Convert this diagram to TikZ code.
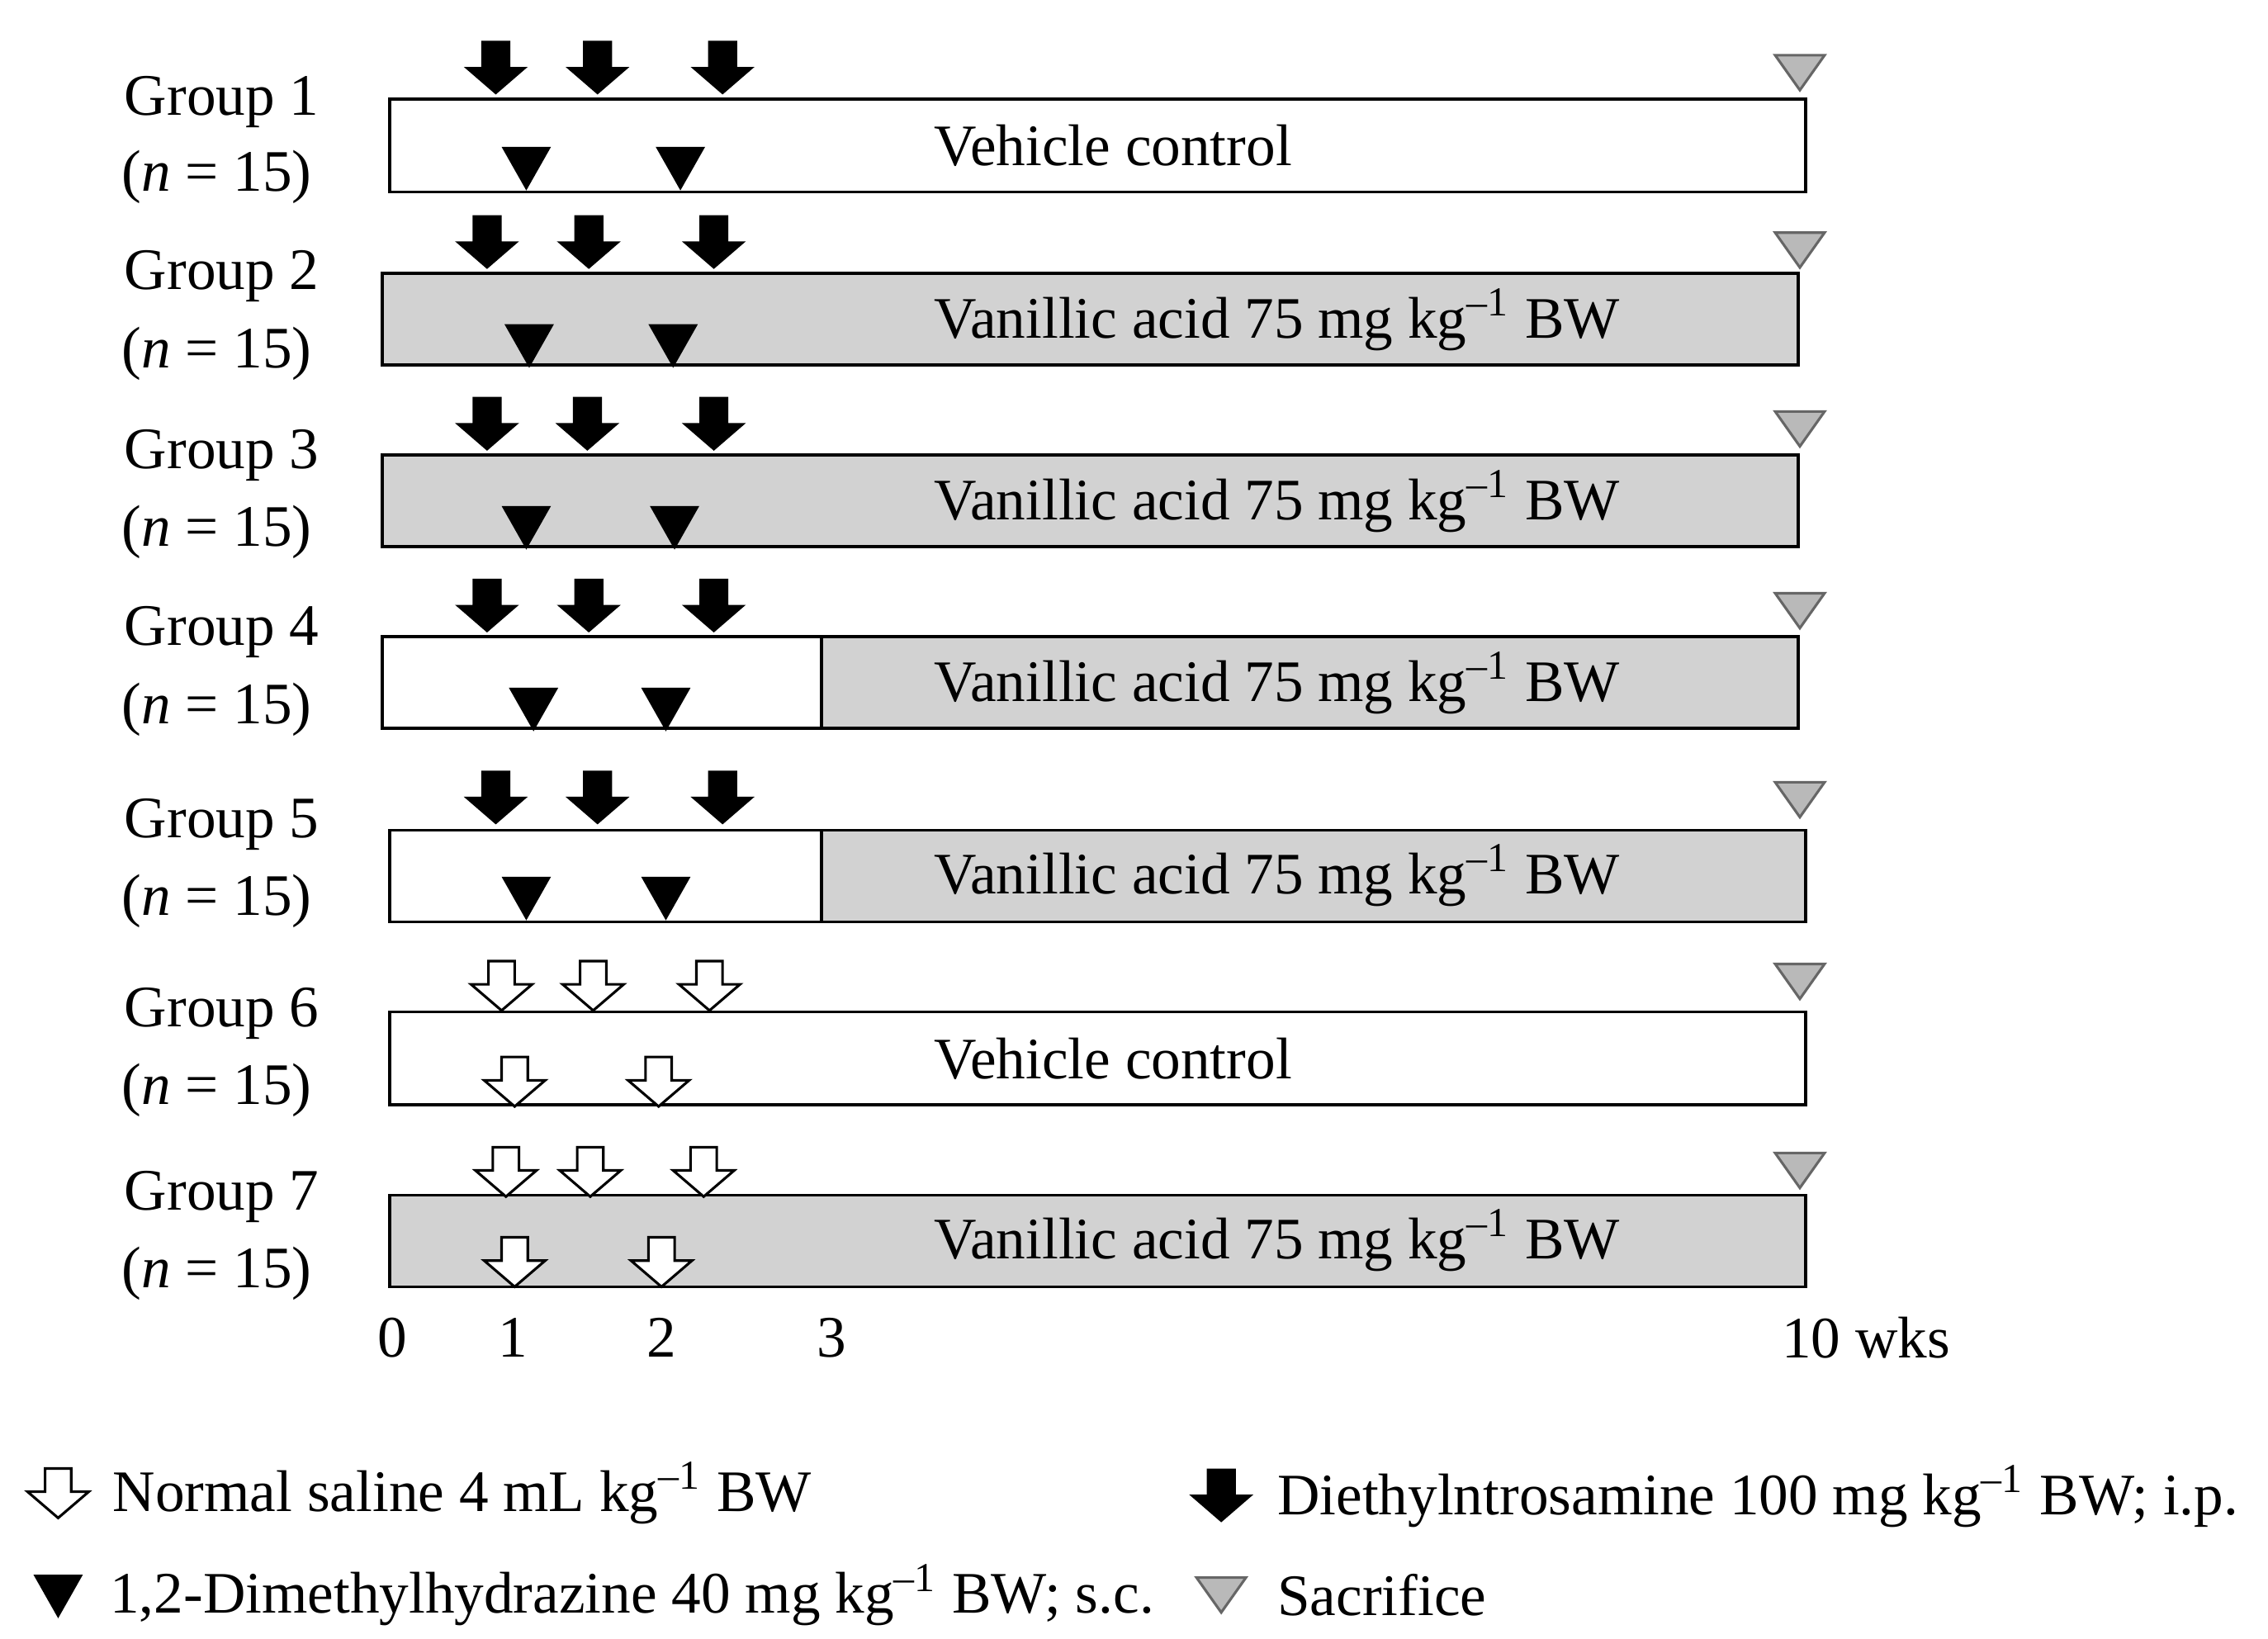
\documentclass[tikz,border=0pt]{standalone}
\usepackage{fontspec}
\setmainfont{Liberation Serif}
\begin{document}
\begin{tikzpicture}[x=0.01cm,y=-0.01cm,font=\fontsize{11.5}{13}\selectfont,
 blk/.pic={\fill[black] (-10,0)--(10,0)--(10,18)--(22,18)--(0,37)--(-22,18)--(-10,18)--cycle;},
 opn/.pic={\draw[black,fill=white,line width=0.5pt] (-9,0)--(9,0)--(9,16)--(21,16)--(0,34)--(-21,16)--(-9,16)--cycle;},
 tri/.pic={\fill[black] (-17,0)--(17,0)--(0,30)--cycle;},
 sac/.pic={\draw[fill=gray!55,draw=gray!80!black,line width=0.5pt] (-17,0)--(17,0)--(0,24)--cycle;},
 bar/.style={draw=black,line width=0.6pt},
 lab/.style={anchor=west,inner sep=0pt}]
\useasboundingbox (0,0) rectangle (1560,1127);
\def\va{Vanillic acid 75 mg kg\textsuperscript{–1} BW}
% bars
\draw[bar,fill=white] (268,68) rectangle (1242,132);
\draw[bar,fill=gray!35] (263,188) rectangle (1237,251);
\draw[bar,fill=gray!35] (263,313) rectangle (1237,376);
\draw[bar,fill=gray!35] (565,438) rectangle (1237,501);
\draw[bar,fill=white] (263,438) rectangle (565,501);
\draw[bar,fill=gray!35] (565,571) rectangle (1242,634);
\draw[bar,fill=white] (268,571) rectangle (565,634);
\draw[bar,fill=white] (268,696) rectangle (1242,760);
\draw[bar,fill=gray!35] (268,822) rectangle (1242,885);
% bar labels
\node[lab] (t1) at (642,100) {Vehicle control};
\node[lab] (t2) at (642,220) {\va};
\node[lab] (t3) at (642,345) {\va};
\node[lab] (t4) at (642,470) {\va};
\node[lab] (t5) at (642,602) {\va};
\node[lab] (t6) at (642,728) {Vehicle control};
\node[lab] (t7) at (642,853) {\va};
% group labels
\foreach \g/\a/\b in {1/70/122,2/190/243,3/313/366,4/435/488,5/567/620,6/697/750,7/823/876}{
 \node[lab] (g\g) at (85,\a) {Group \g};
 \node[lab] (n\g) at (83,\b) {(\textit{n} = 15)};
}
% DEN arrows
\foreach \x in {341,411,497} \pic at (\x,28) {blk};
\foreach \x in {335,405,491} \pic at (\x,148) {blk};
\foreach \x in {335,404,491} \pic at (\x,273) {blk};
\foreach \x in {335,405,491} \pic at (\x,398) {blk};
\foreach \x in {341,411,497} \pic at (\x,530) {blk};
% DMH triangles
\foreach \x in {362,468} \pic at (\x,101) {tri};
\foreach \x in {364,463} \pic at (\x,223) {tri};
\foreach \x in {362,464} \pic at (\x,348) {tri};
\foreach \x in {367,458} \pic at (\x,473) {tri};
\foreach \x in {362,458} \pic at (\x,603) {tri};
% saline arrows
\foreach \x in {345,408,488} \pic at (\x,661) {opn};
\foreach \x in {354,453} \pic at (\x,727) {opn};
\foreach \x in {348,406,484} \pic at (\x,789) {opn};
\foreach \x in {354,455} \pic at (\x,851) {opn};
% sacrifice
\foreach \y in {38,160,283,408,538,663,793} \pic at (1238,\y) {sac};
% axis
\node (a0) at (270,920) {0};
\node (a1) at (353,920) {1};
\node (a2) at (455,920) {2};
\node (a3) at (572,920) {3};
\node[lab] (a10) at (1225,920) {10 wks};
% legend
\pic at (40,1010) {opn};
\node[lab] (l1) at (77,1027) {Normal saline 4 mL kg\textsuperscript{–1} BW};
\pic at (840,1010) {blk};
\node[lab] (l2) at (878,1029) {Diethylntrosamine 100 mg kg\textsuperscript{–1} BW; i.p.};
\pic at (40,1083) {tri};
\node[lab] (l3) at (75,1097) {1,2-Dimethylhydrazine 40 mg kg\textsuperscript{–1} BW; s.c.};
\pic at (840,1085) {sac};
\node[lab] (l4) at (878,1097) {Sacrifice};
\end{tikzpicture}
\end{document}
